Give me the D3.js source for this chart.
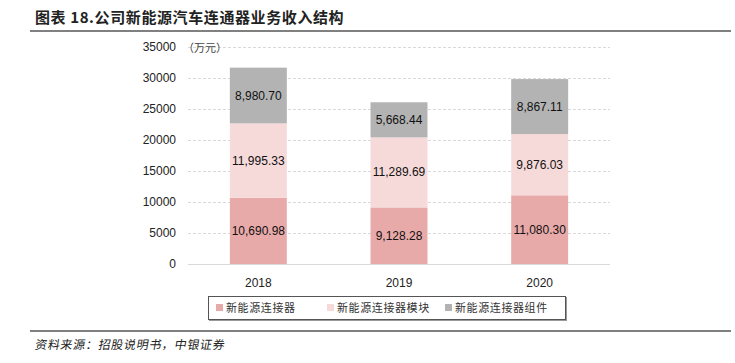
<!DOCTYPE html>
<html>
<head>
<meta charset="utf-8">
<script src="https://cdn.jsdelivr.net/npm/d3@7"></script>
<style>
  body { margin: 0; background: #fff; }
  svg { display: block; }
</style>
</head>
<body>
<div id="chart"></div>
<script>
// data
var years = ["2018", "2019", "2020"];
var seriesNames = ["新能源连接器", "新能源连接器模块", "新能源连接器组件"];
var connectorVals = [10690.98, 9128.28, 11080.30];
var moduleVals = [11995.33, 11289.69, 9876.03];
var assemblyVals = [8980.70, 5668.44, 8867.11];
var yTicks = [0, 5000, 10000, 15000, 20000, 25000, 30000, 35000];

var colors = ["#e8a9a9", "#f6dada", "#b3b3b3"];

var svg_w = 735, svg_h = 363;
var plotL = 188, plotR = 610, plotT = 47, plotB = 264;

var svg = d3.select("#chart").append("svg")
  .attr("width", svg_w)
  .attr("height", svg_h);

// title + rules
svg.append("text")
  .attr("x", 35).attr("y", 23)
  .attr("font-family", "Noto Sans CJK SC")
  .attr("font-weight", "bold")
  .attr("font-size", 15)
  .attr("letter-spacing", 0.6)
  .attr("fill", "#222")
  .text("图表 18.公司新能源汽车连通器业务收入结构");

svg.append("line")
  .attr("x1", 30).attr("x2", 731).attr("y1", 31).attr("y2", 31)
  .attr("stroke", "#808080").attr("stroke-width", 2);
svg.append("line")
  .attr("x1", 30).attr("x2", 731).attr("y1", 331).attr("y2", 331)
  .attr("stroke", "#808080").attr("stroke-width", 2);

// source note (slanted)
svg.append("text")
  .attr("x", 35).attr("y", 349)
  .attr("font-family", "Noto Sans CJK SC")
  .attr("font-size", 12)
  .attr("letter-spacing", 0.7)
  .attr("fill", "#222")
  .attr("transform", "translate(61,0) skewX(-10)")
  .text("资料来源：招股说明书，中银证券");

// scales
var x = d3.scaleBand()
  .domain(years)
  .range([plotL, plotR])
  .paddingInner(0.595)
  .paddingOuter(0.2975);

var y = d3.scaleLinear()
  .domain([0, 35000])
  .range([plotB, plotT]);

// gridlines
svg.append("g").selectAll("line")
  .data(yTicks.filter(function(d) { return d > 0; }))
  .enter().append("line")
  .attr("x1", plotL).attr("x2", plotR)
  .attr("y1", function(d) { return Math.round(y(d)) + 0.5; })
  .attr("y2", function(d) { return Math.round(y(d)) + 0.5; })
  .attr("stroke", "#d9d9d9")
  .attr("stroke-dasharray", "3,2");

// y axis labels
var yAxis = d3.axisLeft(y).tickValues(yTicks).tickSize(0).tickPadding(0)
  .tickFormat(d3.format("d"));
var gy = svg.append("g")
  .attr("transform", "translate(176,0)")
  .call(yAxis);
gy.select(".domain").remove();
gy.selectAll("text")
  .attr("font-family", "Liberation Sans, Arial")
  .attr("font-size", 12)
  .attr("fill", "#222");

svg.append("text")
  .attr("x", 183).attr("y", 52)
  .attr("font-family", "Noto Sans CJK SC")
  .attr("font-size", 11)
  .attr("fill", "#444")
  .text("（万元）");

// stacked bars
var rows = years.map(function(yr, i) {
  return { year: yr, a: connectorVals[i], b: moduleVals[i], c: assemblyVals[i] };
});
var stack = d3.stack().keys(["a", "b", "c"]);
var layers = stack(rows);

var g = svg.append("g");
layers.forEach(function(layer, k) {
  g.selectAll(".bar" + k)
    .data(layer)
    .enter().append("rect")
    .attr("x", function(d) { return x(d.data.year); })
    .attr("width", x.bandwidth())
    .attr("y", function(d) { return y(d[1]); })
    .attr("height", function(d) { return y(d[0]) - y(d[1]); })
    .attr("fill", colors[k]);

  g.selectAll(".lab" + k)
    .data(layer)
    .enter().append("text")
    .attr("x", function(d) { return x(d.data.year) + x.bandwidth() / 2; })
    .attr("y", function(d) { return (y(d[0]) + y(d[1])) / 2 + 4; })
    .attr("text-anchor", "middle")
    .attr("font-family", "Liberation Sans, Arial")
    .attr("font-size", 12)
    .attr("fill", "#111")
    .text(function(d) { return d3.format(",.2f")(d[1] - d[0]); });
});

// baseline
svg.append("line")
  .attr("x1", plotL).attr("x2", plotR)
  .attr("y1", plotB + 0.5).attr("y2", plotB + 0.5)
  .attr("stroke", "#d9d9d9");

// x axis labels
svg.append("g").selectAll("text")
  .data(years)
  .enter().append("text")
  .attr("x", function(d) { return x(d) + x.bandwidth() / 2; })
  .attr("y", 287)
  .attr("text-anchor", "middle")
  .attr("font-family", "Liberation Sans, Arial")
  .attr("font-size", 12)
  .attr("fill", "#222")
  .text(function(d) { return d; });

// legend
var lg = svg.append("g");
lg.append("rect")
  .attr("x", 208.5).attr("y", 296.5)
  .attr("width", 357).attr("height", 23)
  .attr("fill", "none")
  .attr("stroke", "#555");
lg.append("line")
  .attr("x1", 566.5).attr("x2", 566.5).attr("y1", 297).attr("y2", 321)
  .attr("stroke", "#999");
lg.append("line")
  .attr("x1", 209).attr("x2", 567).attr("y1", 320.5).attr("y2", 320.5)
  .attr("stroke", "#999");

var legX = [216, 327, 445];
seriesNames.forEach(function(name, k) {
  lg.append("rect")
    .attr("x", legX[k]).attr("y", 304)
    .attr("width", 7).attr("height", 7)
    .attr("fill", colors[k]);
  lg.append("text")
    .attr("x", legX[k] + 10).attr("y", 312)
    .attr("font-family", "Noto Sans CJK SC")
    .attr("font-size", 11)
    .attr("letter-spacing", 0.6)
    .attr("fill", "#333")
    .text(name);
});
</script>
</body>
</html>
